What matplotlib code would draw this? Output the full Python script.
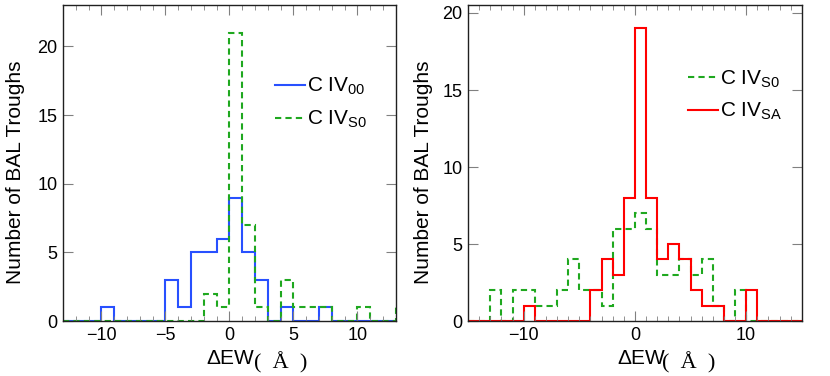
import numpy as np
import matplotlib
matplotlib.use("Agg")
import matplotlib.pyplot as plt

plt.rcParams['font.family'] = ['Liberation Sans', 'DejaVu Sans']
plt.rcParams['mathtext.default'] = 'regular'

# left panel: bins of width 1 starting at -13
left_edges = np.arange(-13, 15)
civ_00 = [0, 0, 0, 1, 0, 0, 0, 0, 3, 1, 5, 5, 6, 9, 5, 3, 0, 1, 0, 0, 1, 0, 0, 0, 0, 0, 0]
civ_s0_left = [0, 0, 0, 0, 0, 0, 0, 0, 0, 0, 0, 2, 1, 21, 7, 1, 0, 3, 1, 1, 1, 0, 0, 1, 0, 0, 1]

# right panel: bins of width 1 starting at -15
right_edges = np.arange(-15, 16)
civ_s0_right = [0, 0, 2, 0, 2, 2, 1, 1, 2, 4, 2, 2, 1, 6, 6, 7, 6, 3, 3, 4, 3, 4, 1, 0, 2, 0, 0, 0, 0, 0]
civ_sa = [0, 0, 0, 0, 0, 1, 0, 0, 0, 0, 0, 2, 4, 3, 8, 19, 8, 4, 5, 4, 2, 1, 1, 0, 0, 2, 0, 0, 0, 0]

blue = '#2850ff'
green = '#1fa81f'
red = '#ff0000'
dash = (0, (3, 2))

fig = plt.figure(figsize=(8.3, 3.76), dpi=100)
ax1 = fig.add_axes([0.0759, 0.146, 0.401, 0.840])
ax2 = fig.add_axes([0.564, 0.146, 0.402, 0.840])

ax1.stairs(civ_00, left_edges, color=blue, lw=1.5, label='C IV$_{00}$')
ax1.stairs(civ_s0_left, left_edges, color=green, lw=1.5, ls=dash, label='C IV$_{S0}$')
ax1.set_xlim(-13, 13)
ax1.set_ylim(0, 23)
ax1.set_xticks([-10, -5, 0, 5, 10])
ax1.set_xticks(np.arange(-13, 14), minor=True)

ax2.stairs(civ_s0_right, right_edges, color=green, lw=1.5, ls=dash, label='C IV$_{S0}$')
ax2.stairs(civ_sa, right_edges, color=red, lw=1.5, label='C IV$_{SA}$')
ax2.set_xlim(-15, 15)
ax2.set_ylim(0, 20.5)
ax2.set_xticks([-10, 0, 10])
ax2.set_xticks(np.arange(-15, 16), minor=True)

for ax, lx, px, ly in [(ax1, 0.432, 0.574, -0.115), (ax2, 0.446, 0.580, -0.105)]:
    ax.set_yticks([0, 5, 10, 15, 20])
    ax.tick_params(which='both', direction='in', top=True, right=True,
                   color='#808080', labelsize=13, pad=4)
    ax.tick_params(which='major', length=7)
    ax.tick_params(which='minor', length=3.5)
    ax.set_ylabel('Number of BAL Troughs', fontsize=15)
    ax.yaxis.set_label_coords(ly, 0.47)
    for s in ax.spines.values():
        s.set_color('#202020')
        s.set_linewidth(1.0)
    ax.text(lx, -0.118, '\u0394EW', transform=ax.transAxes, fontsize=15,
            ha='left', va='center')
    ax.text(px, -0.132, '(  \u00c5  )', transform=ax.transAxes, fontsize=16,
            ha='left', va='center', family='Liberation Serif')

ax1.legend(loc='center left', bbox_to_anchor=(0.637, 0.69), frameon=False,
           fontsize=15, handlelength=1.45, handletextpad=0.1, labelspacing=0.55,
           borderpad=0, borderaxespad=0)
ax2.legend(loc='center left', bbox_to_anchor=(0.659, 0.715), frameon=False,
           fontsize=15, handlelength=1.45, handletextpad=0.1, labelspacing=0.55,
           borderpad=0, borderaxespad=0)

fig.savefig('out.png', dpi=100)
